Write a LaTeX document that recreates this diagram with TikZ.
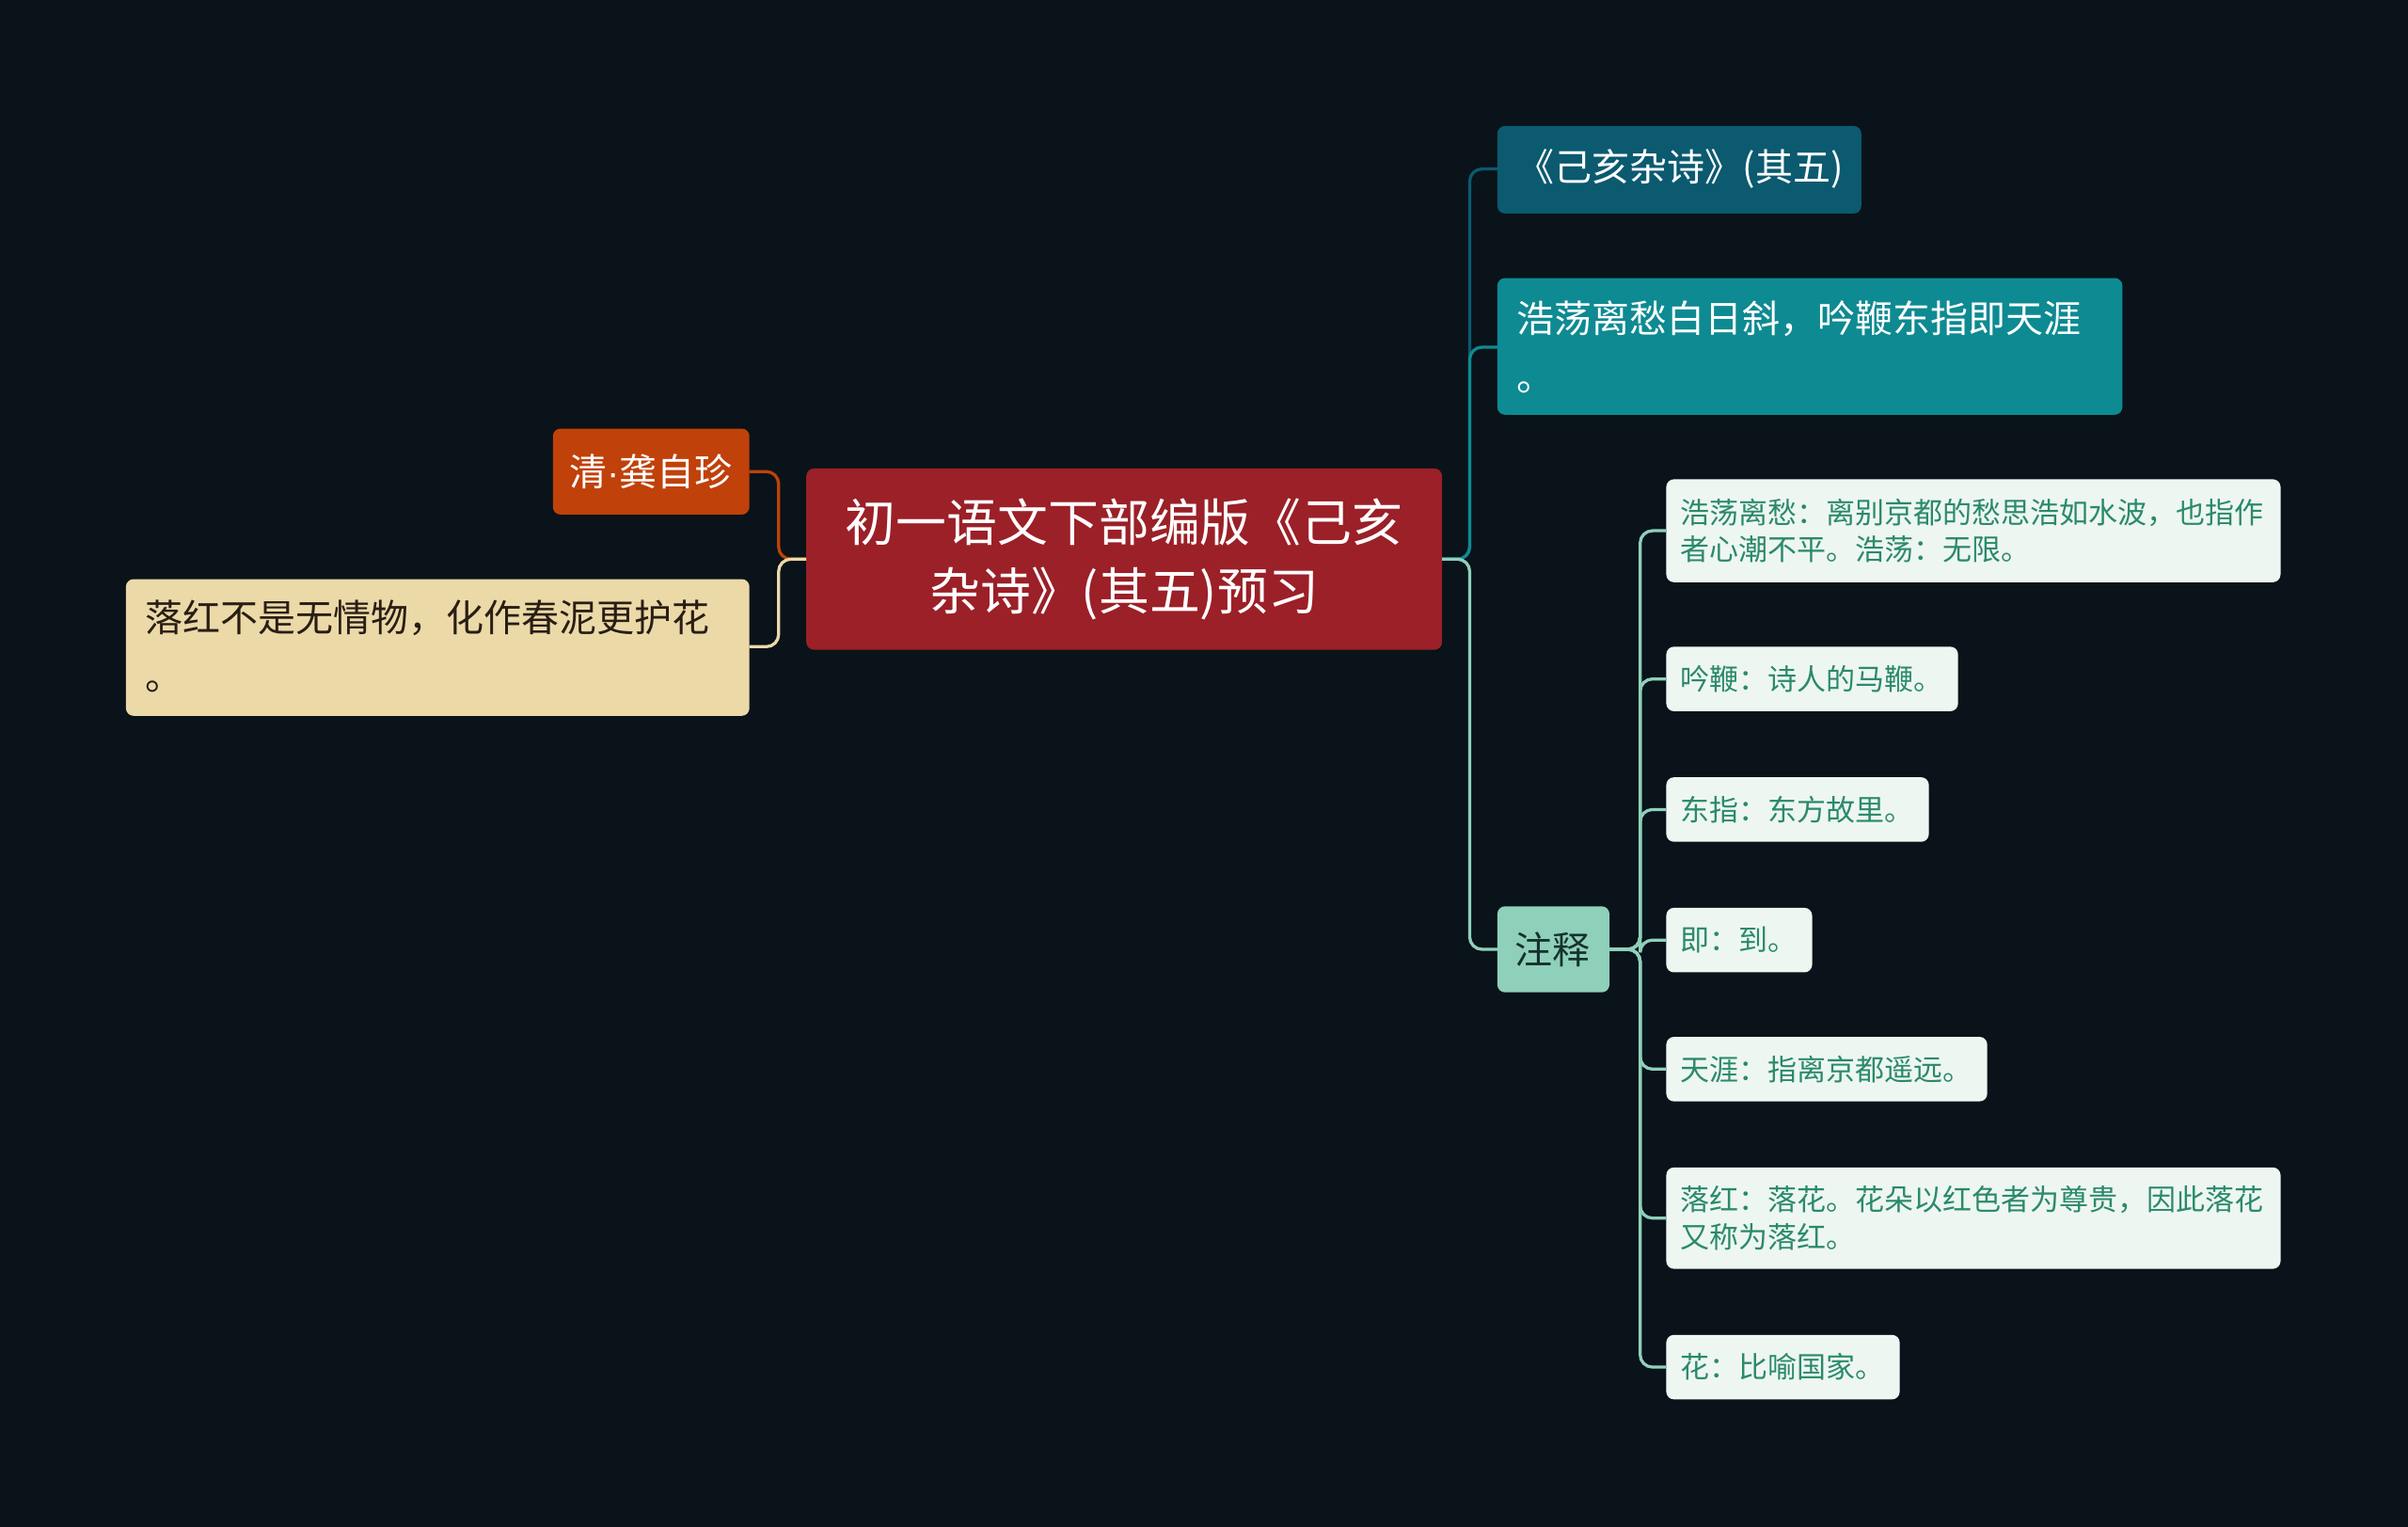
\documentclass[tikz,border=0pt]{standalone}
\usepackage{fontspec}
\setmainfont{Noto Sans CJK SC}
\newfontfamily\latinf{Liberation Sans}
\begin{document}
\begin{tikzpicture}[x=1pt,y=-1pt,
 con/.style={line width=2pt,rounded corners=8pt}]
\fill[fill={rgb,255:red,9;green,19;blue,25}] (0,0) rectangle (1568,994);
\useasboundingbox (0,0) rectangle (1568,994);
\definecolor{leaf}{HTML}{EEF6F2}
\definecolor{leaft}{HTML}{2A8A6A}
\fill[fill={rgb,255:red,155;green,32;blue,40},rounded corners=5pt] (525,305) rectangle (939,423);
\node[text=white,font=\fontsize{33}{45}\selectfont,align=center] (c) at (732,364) {初一语文下部编版《己亥\\杂诗》(其五)预习};
\coordinate (cR) at (939,364); \coordinate (cL) at (525,364);
\fill[fill={rgb,255:red,192;green,65;blue,10},rounded corners=5pt] (360,279) rectangle (488,335);
\node[text=white,font=\fontsize{24.5}{30}\selectfont] (a) at (424,307) {清{\latinf·}龚自珍};
\coordinate (aR) at (488,307);
\fill[fill={rgb,255:red,236;green,217;blue,168},rounded corners=5pt] (82,377) rectangle (488,466);
\node[text={rgb,255:red,40;green,30;blue,20},font=\fontsize{24.5}{38}\selectfont,align=left,anchor=west] (b) at (91,421) {落红不是无情物，化作春泥更护花\\。};
\coordinate (bR) at (488,421);
\fill[fill={rgb,255:red,11;green,90;blue,112},rounded corners=5pt] (975,82) rectangle (1212,139);
\node[text=white,font=\fontsize{24.5}{30}\selectfont] (t) at (1094,110) {《己亥杂诗》(其五)};
\coordinate (tL) at (975,110);
\fill[fill={rgb,255:red,14;green,138;blue,146},rounded corners=5pt] (975,181) rectangle (1382,270);
\node[text=white,font=\fontsize{24.5}{38}\selectfont,align=left,anchor=west] (p) at (984,226) {浩荡离愁白日斜，吟鞭东指即天涯\\。};
\coordinate (pL) at (975,226);
\fill[fill={rgb,255:red,143;green,208;blue,187},rounded corners=5pt] (975,590) rectangle (1048,646);
\node[text={rgb,255:red,20;green,50;blue,45},font=\fontsize{24.5}{30}\selectfont] (z) at (1011,618) {注释};
\coordinate (zL) at (975,618); \coordinate (zR) at (1048,618);
\foreach \i/\ya/\xb/\yb/\txt in {1/312/1485/379/{浩荡离愁：离别京都的愁思浩如水波，也指作\\者心潮不平。浩荡：无限。},2/421/1275/463/{吟鞭：诗人的马鞭。},3/506/1256/548/{东指：东方故里。},4/591/1180/633/{即：到。},5/675/1294/717/{天涯：指离京都遥远。},6/760/1485/826/{落红：落花。花朵以红色者为尊贵，因此落花\\又称为落红。},7/869/1237/911/{花：比喻国家。}}{
 \fill[leaf,rounded corners=5pt] (1085,\ya) rectangle (\xb,\yb);
 \node[text=leaft,font=\fontsize{19}{24}\selectfont,align=left,anchor=west,inner sep=0pt] (l\i) at (1094,{(\ya+\yb)/2}) {\txt};
 \coordinate (l\i L) at (1085,{(\ya+\yb)/2});
}
\draw[con,color={rgb,255:red,192;green,65;blue,10}] (cL) -- (507,364) |- (aR);
\draw[con,color={rgb,255:red,236;green,217;blue,168}] (cL) -- (507,364) |- (bR);
\draw[con,color={rgb,255:red,11;green,90;blue,112}] (cR) -- (957,364) |- (tL);
\draw[con,color={rgb,255:red,14;green,138;blue,146}] (cR) -- (957,364) |- (pL);
\draw[con,color={rgb,255:red,143;green,208;blue,187}] (cR) -- (957,364) |- (zL);
\foreach \i in {1,...,7}{\draw[con,color={rgb,255:red,143;green,208;blue,187}] (zR) -- (1068,618) |- (l\i L);}
\end{tikzpicture}
\end{document}
